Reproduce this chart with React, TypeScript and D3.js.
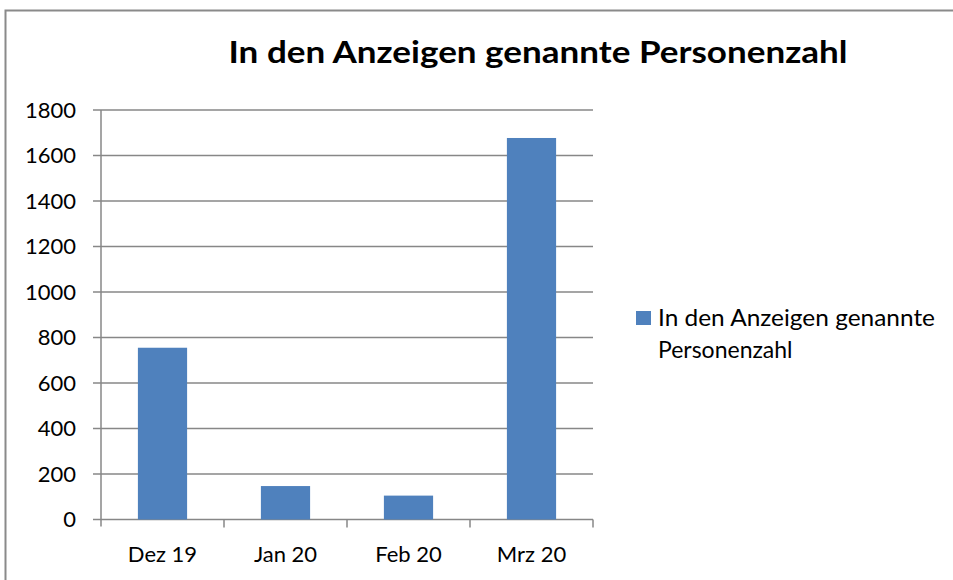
import React from "react";
import * as d3 from "d3";

const categories = ["Dez 19", "Jan 20", "Feb 20", "Mrz 20"];
const values = [755, 147, 105, 1677];
const yTicks = [0, 200, 400, 600, 800, 1000, 1200, 1400, 1600, 1800];
const seriesName = "In den Anzeigen genannte Personenzahl";
const legendLines = ["In den Anzeigen genannte", "Personenzahl"];
const titleText = "In den Anzeigen genannte Personenzahl";

const W = 953;
const H = 580;
const FONT = "Lato, 'Open Sans', sans-serif";
const BAR = "#4f81bd";
const GRID = "#878787";

export default function App() {
  const left = 101;
  const right = 593;
  const top = 110;
  const bottom = 519.5;

  const x = d3.scaleBand<string>().domain(categories).range([left, right]).paddingInner(0.6).paddingOuter(0.3);
  const xb = d3.scaleBand<string>().domain(categories).range([left, right]);
  const y = d3.scaleLinear().domain([0, 1800]).range([bottom, top]);

  return (
    <svg width={W} height={H} style={{ position: "absolute", left: 0, top: 0, background: "#fff" }}>
      <rect x={5.5} y={10.5} width={W + 10} height={H + 10} fill="#fff" stroke="#8a8a8a" strokeWidth={2} />
      <text x={538} y={63} textAnchor="middle" fontFamily={FONT} fontWeight="bold" fontSize={30} fill="#000"
        textLength={619} lengthAdjust="spacingAndGlyphs">{titleText}</text>

      {yTicks.map((t) => (
        <g key={t}>
          <line x1={left} x2={right} y1={y(t)} y2={y(t)} stroke={GRID} strokeWidth={1.5} />
          <line x1={93} x2={left} y1={y(t)} y2={y(t)} stroke={GRID} strokeWidth={1.5} />
          <text x={76} y={y(t) + 7.5} textAnchor="end" fontFamily={FONT} fontSize={22} fill="#000">{t}</text>
        </g>
      ))}
      <line x1={left} x2={left} y1={top} y2={bottom + 7} stroke={GRID} strokeWidth={1.5} />
      {categories.map((c) => (
        <line key={"t" + c} x1={(xb(c) as number) + xb.bandwidth()} x2={(xb(c) as number) + xb.bandwidth()}
          y1={bottom} y2={bottom + 8} stroke={GRID} strokeWidth={1.5} />
      ))}

      {categories.map((c, i) => (
        <rect key={c} x={x(c)} y={y(values[i])} width={x.bandwidth()} height={bottom - y(values[i])} fill={BAR} />
      ))}

      {categories.map((c) => (
        <text key={"l" + c} x={(xb(c) as number) + xb.bandwidth() / 2} y={562} textAnchor="middle"
          fontFamily={FONT} fontSize={22} fill="#000">{c}</text>
      ))}

      <g aria-label={seriesName}>
        <rect x={636} y={311} width={15} height={14} fill={BAR} />
        <text x={658} y={326} fontFamily={FONT} fontSize={23} fill="#000" textLength={277} lengthAdjust="spacingAndGlyphs">{legendLines[0]}</text>
        <text x={658} y={358} fontFamily={FONT} fontSize={23} fill="#000">{legendLines[1]}</text>
      </g>
    </svg>
  );
}
